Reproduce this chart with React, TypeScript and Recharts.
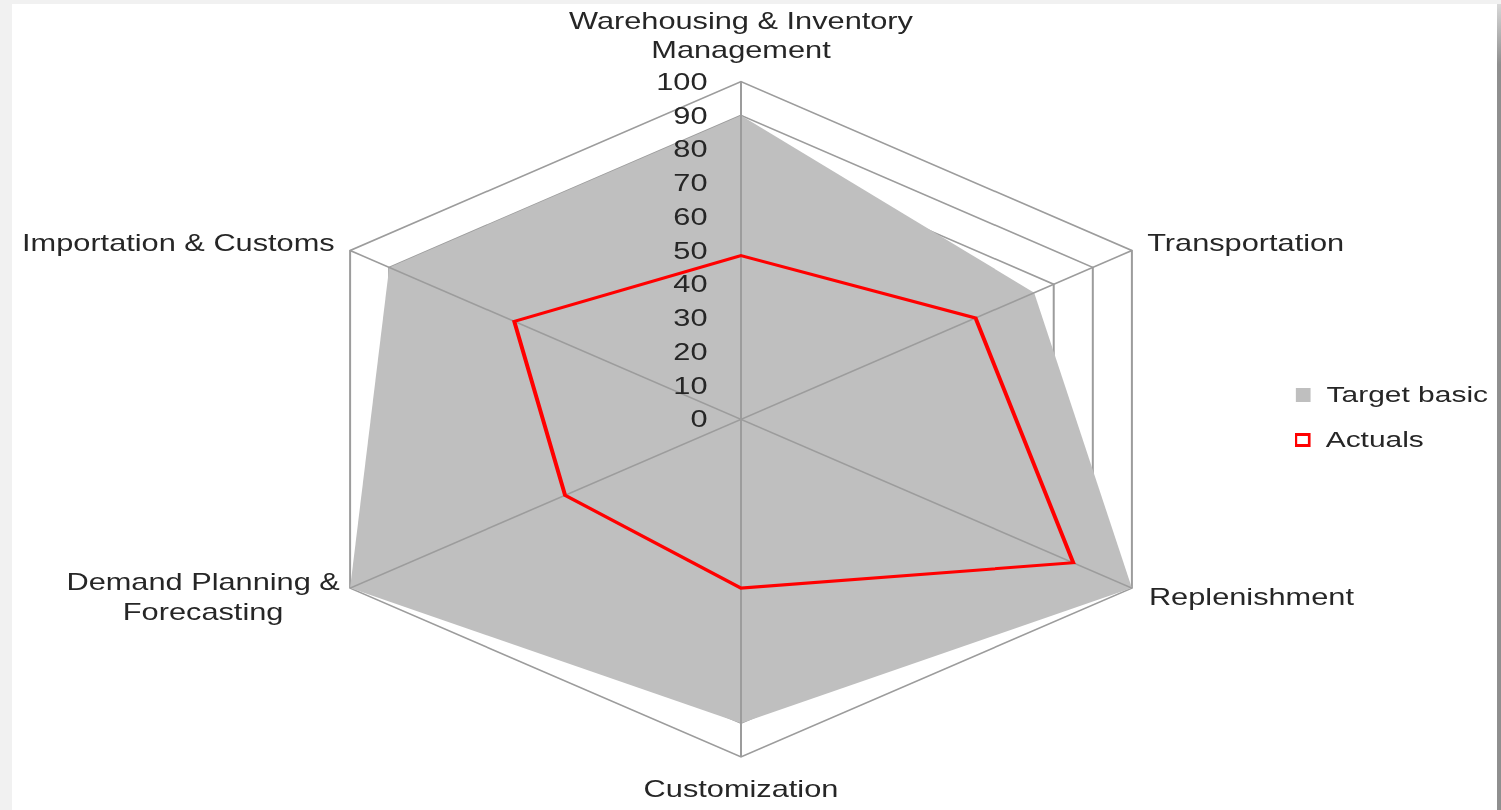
import React from 'react'
import {
  RadarChart, Radar, PolarGrid, PolarAngleAxis, PolarRadiusAxis, Legend,
} from 'recharts'

const CATEGORIES = [
  'Warehousing & Inventory\nManagement',
  'Transportation',
  'Replenishment',
  'Customization',
  'Demand Planning &\nForecasting',
  'Importation & Customs',
]
const TARGET_BASIC = [90, 75, 100, 90, 100, 90]
const ACTUALS = [48.5, 60, 85, 50, 45, 58]
const RADIUS_TICKS = [0, 10, 20, 30, 40, 50, 60, 70, 80, 90, 100]

const data = CATEGORIES.map((c, i) => ({
  category: c,
  target: TARGET_BASIC[i],
  actual: ACTUALS[i],
}))

// the reference is stretched sideways, so the whole chart is scaled on x
const STRETCH = 1.337
const CX = 570
const W = 1140
const H = 810
const FONT = '"Liberation Sans", Arial, sans-serif'
const TEXT = '#262626'
const GRID = '#9c9c9c'

// label placement per spoke, relative to the tick anchor
const LABEL_POS: { dx: number; dy: number[]; anchor: 'start' | 'middle' | 'end' }[] = [
  { dx: 0, dy: [-52.7, -23.7], anchor: 'middle' },
  { dx: 4.5, dy: [-3.5], anchor: 'start' },
  { dx: 5.8, dy: [5], anchor: 'start' },
  { dx: 0, dy: [24], anchor: 'middle' },
  { dx: -103, dy: [-10.3, 19.7], anchor: 'middle' },
  { dx: -4.6, dy: [-3.5], anchor: 'end' },
]

function AngleTick({ x, y, payload, index }: any) {
  const pos = LABEL_POS[index ?? 0] ?? LABEL_POS[0]
  const lines = String(payload.value).split('\n')
  return (
    <g>
      {lines.map((line, i) => (
        <text
          key={i}
          x={x + pos.dx}
          y={y + pos.dy[i]}
          dy="0.35em"
          textAnchor={pos.anchor}
          fill={TEXT}
          fontSize={23}
          fontFamily={FONT}
        >
          {line}
        </text>
      ))}
    </g>
  )
}

function RadiusTick({ x, y, payload }: any) {
  return (
    <text x={x - 25} y={y} dy="0.35em" textAnchor="end" fill={TEXT} fontSize={23} fontFamily={FONT}>
      {payload.value}
    </text>
  )
}

function LegendBox() {
  return (
    <div style={{ fontFamily: FONT, fontSize: 22.4, color: TEXT }}>
      <div style={{ height: 45, display: 'flex', alignItems: 'center' }}>
        <div style={{ width: 11, height: 14, marginLeft: 1, background: '#BFBFBF' }} />
        <span style={{ marginLeft: 12 }}>Target basic</span>
      </div>
      <div style={{ height: 45, display: 'flex', alignItems: 'center' }}>
        <div
          style={{
            width: 8.3, height: 8, borderStyle: 'solid', borderColor: '#FF0000',
            borderWidth: '3px 2.2px', background: '#fff',
          }}
        />
        <span style={{ marginLeft: 11 }}>Actuals</span>
      </div>
    </div>
  )
}

export default function App() {
  return (
    <div style={{ position: 'fixed', left: 0, top: 0, width: 1501, height: 810, background: '#f1f1f1', overflow: 'hidden' }}>
      {/* frame */}
      <div style={{ position: 'absolute', left: 12, top: 4, width: 1485, height: 806, background: '#fff' }} />
      <div
        style={{
          position: 'absolute', left: 1497, top: 4, width: 4, height: 806,
          background: 'linear-gradient(#d8d8d8, #8f8f8f 60px, #8f8f8f)',
        }}
      />

      <div
        style={{
          position: 'absolute', left: 741 - CX, top: 0, width: W, height: H,
          transform: `scaleX(${STRETCH})`, transformOrigin: `${CX}px 0px`,
        }}
      >
        <RadarChart width={W} height={H} data={data} cx={CX} cy={419.3} outerRadius={337.6}>
          <PolarGrid gridType="polygon" stroke={GRID} strokeWidth={1.5} radialLines={false} />
          <PolarAngleAxis
            dataKey="category"
            tick={<AngleTick />}
            tickLine={false}
            axisLine={false}
          />
          <PolarRadiusAxis
            angle={90}
            domain={[0, 100]}
            ticks={RADIUS_TICKS as any}
            tickCount={11}
            tick={<RadiusTick />}
            axisLine={false}
            tickLine={false}
          />
          <Radar
            name="Target basic"
            dataKey="target"
            fill="#BFBFBF"
            fillOpacity={1}
            stroke="none"
            isAnimationActive={false}
          />
          <PolarGrid
            gridType="polygon"
            polarRadius={[0]}
            stroke={GRID}
            strokeWidth={1.5}
            {...({ zIndex: 150 } as any)}
          />
          <Radar
            name="Actuals"
            dataKey="actual"
            fill="none"
            fillOpacity={0}
            stroke="#FF0000"
            strokeWidth={3}
            dot={false}
            isAnimationActive={false}
            {...({ zIndex: 200 } as any)}
          />
          <Legend
            layout="vertical"
            content={<LegendBox />}
            wrapperStyle={{ left: 984, top: 372.5, width: 220, bottom: 'auto', right: 'auto' }}
          />
        </RadarChart>
      </div>
    </div>
  )
}
